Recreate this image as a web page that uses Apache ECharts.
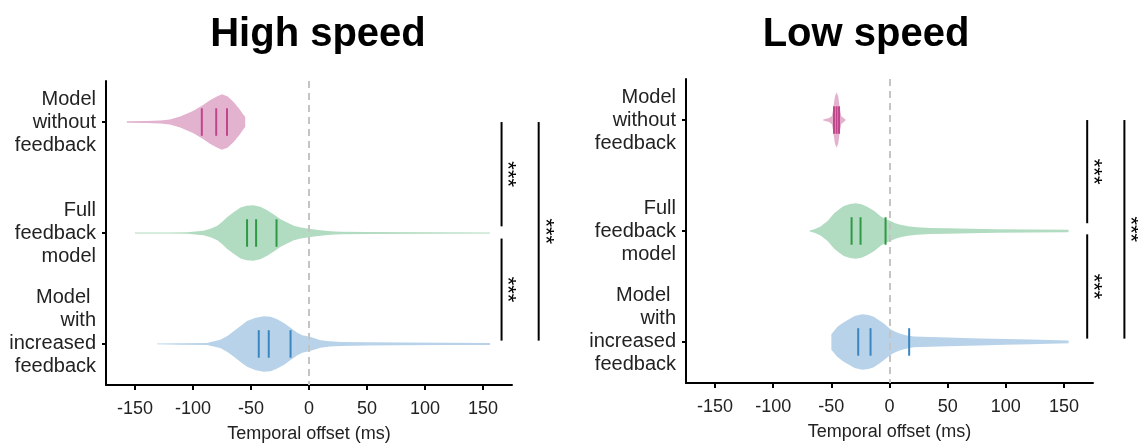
<!DOCTYPE html>
<html>
<head>
<meta charset="utf-8">
<script src="https://cdn.jsdelivr.net/npm/echarts@6/dist/echarts.min.js"></script>
<style>
  html, body { margin: 0; padding: 0; background: #fff; }
  #chart { width: 1138px; height: 444px; }
</style>
</head>
<body>
<div id="chart"></div>
<script>
// categories (top to bottom) and x ticks
var categories = ['Model\nwithout\nfeedback', 'Full\nfeedback\nmodel', 'Model \nwith\nincreased\nfeedback\n '];
var xTicks = [-150, -100, -50, 0, 50, 100, 150];
var panelTitles = ['High speed', 'Low speed'];

// High speed - model without feedback: offsets (ms), relative density, quartiles
var hsNoFbX = [-157, -140, -128, -120, -111, -100, -92, -85, -79, -75, -70, -65, -60, -57, -55];
var hsNoFbW = [0.8, 1, 1.5, 2.5, 5.5, 11, 16.5, 22, 25.7, 27.7, 25.5, 20, 13, 8, 5];
var hsNoFbQ = [-92.4, -80, -70.7];

// High speed - full feedback model
var hsFullX = [-150, -120, -105, -91, -85, -79, -75, -70.7, -65, -59, -54, -48, -42, -36, -30, -24.5, -18, -13, -7, -1.4, 1.5, 10, 18.8, 27.5, 50, 100, 156];
var hsFullW = [0.4, 0.6, 0.8, 2.3, 4.2, 7.3, 11, 16, 21, 25.7, 27.5, 28, 26.5, 23, 18.5, 14, 10, 7.3, 5.5, 4.5, 4, 2.7, 1.7, 1.3, 0.9, 0.7, 0.6];
var hsFullQ = [-53.4, -45.6, -28];

// High speed - model with increased feedback
var hsIncX = [-131, -110, -88, -76.5, -70, -65, -59, -53.4, -46, -39, -33, -27.4, -21, -15.9, -10, -5.7, 1.5, 10, 18, 27.5, 50, 79, 120, 156];
var hsIncW = [0.4, 0.7, 1, 4, 8, 12.3, 17.5, 22.3, 25.5, 27, 26.5, 24, 20, 15.7, 11, 8.5, 6.7, 3.7, 2.6, 2, 1.6, 1.3, 1.1, 1];
var hsIncQ = [-43.3, -34.7, -15.9];

// Low speed - model without feedback
var lsNoFbX = [-57, -52, -49.5, -48.4, -47, -45.5, -44, -42.7, -41.5, -40.6, -37.8];
var lsNoFbW = [0.5, 2, 4, 11, 22.7, 27, 22.7, 11, 4, 3, 0.5];
var lsNoFbQ = [-47.7, -45.5, -43.4];

// Low speed - full feedback model
var lsFullX = [-68.5, -64, -59.3, -53, -47.8, -43, -39.3, -34, -29.2, -24, -19.2, -13, -7.7, -3, 0.9, 5, 9.4, 16, 23.8, 35, 49.6, 70, 92.5, 120, 154];
var lsFullW = [0.5, 2, 4.3, 10, 17, 21.5, 24.3, 26.3, 27, 26, 23.7, 19.5, 14.3, 11.5, 9.7, 7.5, 6, 4.6, 3.7, 3, 2.7, 2.2, 1.7, 1.5, 1.3];
var lsFullQ = [-32.6, -24.9, -3.4];

// Low speed - model with increased feedback
var lsIncX = [-50, -45, -40, -36.3, -30, -23.5, -18, -13.5, -9, -4.9, 0.9, 5, 9.4, 14, 20.9, 35, 50, 78, 100, 121, 154];
var lsIncW = [7.5, 14.3, 18.5, 21, 25, 26.7, 26, 24.3, 21, 17.7, 12.3, 9.8, 8, 6.5, 5.2, 4.7, 4.2, 3.3, 2.8, 2.3, 1.3];
var lsIncQ = [-26.9, -16.3, 16.9];

// significance brackets: [x, from category, to category]
var hsBrackets = [[166, 0, 0.94], [166, 1.05, 1.97], [198, 0, 1.97]];
var lsBrackets = [[170, 0, 0.93], [170, 1.03, 1.97], [202, 0, 1.97]];

var fills = ['#e2b2cf', '#b2dcc1', '#b8d3e9'];
var strokes = ['#c0468c', '#2f9844', '#3a86c1'];
var HALF = 0.25, LINE = 0.124;
var FONT = '"Liberation Sans", Arial, sans-serif';

var panels = [
    {violins: [[hsNoFbX, hsNoFbW, hsNoFbQ], [hsFullX, hsFullW, hsFullQ], [hsIncX, hsIncW, hsIncQ]], brackets: hsBrackets,
     grid: {left: 106, top: 81, width: 406, height: 304, outerBoundsMode: 'none'}, titleX: 313},
    {violins: [[lsNoFbX, lsNoFbW, lsNoFbQ], [lsFullX, lsFullW, lsFullQ], [lsIncX, lsIncW, lsIncQ]], brackets: lsBrackets,
     grid: {left: 686, top: 79, width: 407, height: 304, outerBoundsMode: 'none'}, titleX: 861}
];

var violinRender = function (set) {
    return function (params, api) {
        var v = set[params.dataIndex];
        var cat = api.value(1);
        var maxW = Math.max.apply(null, v[1]);
        var top = [], bot = [];
        for (var i = 0; i < v[0].length; i++) {
            top.push(api.coord([v[0][i], cat - v[1][i] / maxW * HALF]));
            bot.unshift(api.coord([v[0][i], cat + v[1][i] / maxW * HALF]));
        }
        var children = [{
            type: 'polygon',
            shape: {points: top.concat(bot), smooth: 0},
            style: {fill: fills[params.dataIndex], stroke: null}
        }];
        v[2].forEach(function (q) {
            var a = api.coord([q, cat - LINE]), b = api.coord([q, cat + LINE]);
            children.push({
                type: 'line',
                shape: {x1: a[0], y1: a[1], x2: b[0], y2: b[1]},
                style: {stroke: strokes[params.dataIndex], lineWidth: 2}
            });
        });
        return {type: 'group', children: children};
    };
};

var bracketRender = function (params, api) {
    var a = api.coord([api.value(0), api.value(1)]);
    var b = api.coord([api.value(0), api.value(2)]);
    return {
        type: 'group',
        children: [
            {type: 'line', shape: {x1: a[0], y1: a[1], x2: b[0], y2: b[1]}, style: {stroke: '#000', lineWidth: 2}},
            {type: 'text', x: a[0] + 6, y: (a[1] + b[1]) / 2, rotation: -Math.PI / 2,
             style: {text: '***', fontSize: 22, fontFamily: FONT, fill: '#000', align: 'center', verticalAlign: 'middle'}}
        ]
    };
};

var option = {
    animation: false,
    title: [],
    grid: [],
    xAxis: [],
    yAxis: [],
    series: []
};

panels.forEach(function (p, k) {
    option.title.push({
        text: panelTitles[k], left: p.titleX, top: 10, textAlign: 'center',
        textStyle: {fontSize: 40, fontWeight: 'bold', color: '#000', fontFamily: FONT}
    });
    option.grid.push(p.grid);
    option.xAxis.push({
        type: 'value', gridIndex: k, min: -175, max: 175,
        name: 'Temporal offset (ms)', nameLocation: 'middle', nameGap: 40,
        nameTextStyle: {fontSize: 18, color: '#222', fontFamily: FONT},
        axisLine: {show: true, onZero: false, lineStyle: {color: '#000', width: 2}},
        axisTick: {show: true, length: 5, lineStyle: {color: '#000', width: 2}, customValues: xTicks},
        axisLabel: {fontSize: 18, color: '#222', fontFamily: FONT, margin: 15, customValues: xTicks},
        splitLine: {show: false}
    });
    option.yAxis.push({
        type: 'value', gridIndex: k, inverse: true, min: -0.37, max: 2.37,
        axisLine: {show: true, onZero: false, lineStyle: {color: '#000', width: 2}},
        axisTick: {show: true, length: 4, lineStyle: {color: '#000', width: 2}, customValues: [0, 1, 2]},
        axisLabel: {
            customValues: [0, 1, 2], fontSize: 20, lineHeight: 23, color: '#222', fontFamily: FONT, margin: 10,
            align: 'right', formatter: function (val) { return categories[Math.round(val)]; }
        },
        splitLine: {show: false}
    });
    option.series.push({
        type: 'custom', xAxisIndex: k, yAxisIndex: k,
        renderItem: violinRender(p.violins),
        data: [[0, 0], [0, 1], [0, 2]],
        encode: {x: 0, y: 1},
        markLine: {
            silent: true, symbol: 'none', label: {show: false},
            lineStyle: {type: [7, 5], color: '#c4c4c4', width: 2},
            data: [{xAxis: 0}]
        }
    });
    option.series.push({
        type: 'custom', xAxisIndex: k, yAxisIndex: k, clip: false,
        renderItem: bracketRender,
        data: p.brackets,
        encode: {x: 0, y: [1, 2]}
    });
});

var chart = echarts.init(document.getElementById('chart'));
chart.setOption(option);
</script>
</body>
</html>
